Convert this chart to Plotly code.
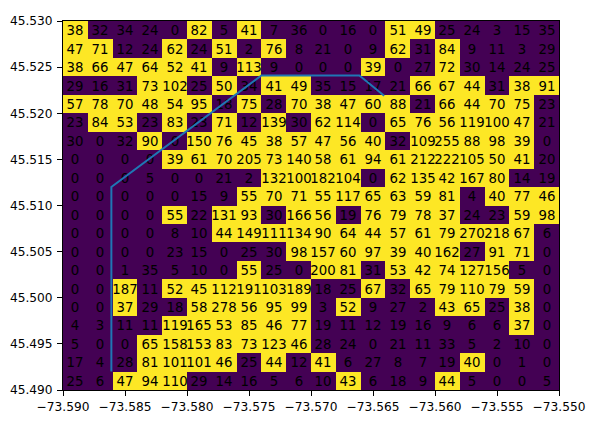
import numpy as np
import plotly.graph_objects as go

# Grid centers (lon / lat), 20 x 20 cells of 0.002 deg
lon_centers = [-73.589 + 0.002 * i for i in range(20)]
lat_centers = [45.529 - 0.002 * j for j in range(20)]  # top row first

r01 = [38, 32, 34, 24, 0, 82, 5, 41, 7, 36, 0, 16, 0, 51, 49, 25, 24, 3, 15, 35]
r02 = [47, 71, 12, 24, 62, 24, 51, 2, 76, 8, 21, 0, 9, 62, 31, 84, 9, 11, 3, 29]
r03 = [38, 66, 47, 64, 52, 41, 9, 113, 9, 0, 0, 0, 39, 0, 27, 72, 30, 14, 24, 25]
r04 = [29, 16, 31, 73, 102, 25, 50, 34, 41, 49, 35, 15, 17, 21, 66, 67, 44, 31, 38, 91]
r05 = [57, 78, 70, 48, 54, 95, 18, 75, 28, 70, 38, 47, 60, 88, 21, 66, 44, 70, 75, 23]
r06 = [23, 84, 53, 23, 83, 23, 71, 12, 139, 30, 62, 114, 0, 65, 76, 56, 119, 100, 47, 21]
r07 = [30, 0, 32, 90, 0, 150, 76, 45, 38, 57, 47, 56, 40, 32, 109, 255, 88, 98, 39, 0]
r08 = [0, 0, 0, 0, 39, 61, 70, 205, 73, 140, 58, 61, 94, 61, 212, 222, 105, 50, 41, 20]
r09 = [0, 0, 0, 5, 0, 0, 21, 2, 132, 100, 182, 104, 0, 62, 135, 42, 167, 80, 14, 19]
r10 = [0, 0, 0, 0, 0, 15, 9, 55, 70, 71, 55, 117, 65, 63, 59, 81, 4, 40, 77, 46]
r11 = [0, 0, 0, 0, 55, 22, 131, 93, 30, 166, 56, 19, 76, 79, 78, 37, 24, 23, 59, 98]
r12 = [0, 0, 0, 0, 8, 10, 44, 149, 111, 134, 90, 64, 44, 57, 61, 79, 270, 218, 67, 6]
r13 = [0, 0, 0, 0, 23, 15, 0, 25, 30, 98, 157, 60, 97, 39, 40, 162, 27, 91, 71, 0]
r14 = [0, 0, 1, 35, 5, 10, 0, 55, 25, 0, 200, 81, 31, 53, 42, 74, 127, 156, 5, 0]
r15 = [0, 0, 187, 11, 52, 45, 112, 191, 103, 189, 18, 25, 67, 32, 65, 79, 110, 79, 59, 0]
r16 = [0, 0, 37, 29, 18, 58, 278, 56, 95, 99, 3, 52, 9, 27, 2, 43, 65, 25, 38, 0]
r17 = [4, 3, 11, 11, 119, 165, 53, 85, 46, 77, 19, 11, 12, 19, 16, 9, 6, 6, 37, 0]
r18 = [5, 0, 0, 65, 158, 153, 83, 73, 123, 46, 28, 24, 0, 21, 11, 33, 5, 2, 10, 0]
r19 = [17, 4, 28, 81, 101, 101, 46, 25, 44, 12, 41, 6, 27, 8, 7, 19, 40, 0, 1, 0]
r20 = [25, 6, 47, 94, 110, 29, 14, 16, 5, 6, 10, 43, 6, 18, 9, 44, 5, 0, 0, 5]

counts = np.array([r01, r02, r03, r04, r05, r06, r07, r08, r09, r10,
                   r11, r12, r13, r14, r15, r16, r17, r18, r19, r20])
threshold = 36
mask = (counts > threshold).astype(int)

# boundary line
line_lon = [-73.5861, -73.5861, -73.5740, -73.5661, -73.5641]
line_lat = [45.4920, 45.5120, 45.5241, 45.5241, 45.5219]

FONT = "DejaVu Sans"

fig = go.Figure()
fig.add_trace(go.Heatmap(
    x=lon_centers, y=lat_centers, z=mask,
    colorscale=[[0, "#440154"], [1, "#fde725"]], zmin=0, zmax=1,
    showscale=False,
    text=counts.astype(str), texttemplate="%{text}",
    textfont=dict(family=FONT, size=13.3, color="black"),
    hoverinfo="skip", xgap=0, ygap=0,
))
fig.add_trace(go.Scatter(
    x=line_lon, y=line_lat, mode="lines",
    line=dict(color="#1f77b4", width=2), hoverinfo="skip", showlegend=False,
))

axis_common = dict(
    showgrid=False, zeroline=False, showline=True, mirror=True,
    linecolor="black", linewidth=1.1, ticks="outside", ticklen=4.9,
    tickwidth=1.1, tickcolor="black", tickformat=".3f", dtick=0.005,
    tickfont=dict(family=FONT, size=12.2, color="black"),
    automargin=False, tickangle=0,
)
fig.update_layout(
    width=595, height=430, autosize=False,
    margin=dict(l=63.3, r=35.7, t=20.5, b=40, pad=0),
    paper_bgcolor="white", plot_bgcolor="white",
    showlegend=False,
    xaxis=dict(range=[-73.59, -73.55], tick0=-73.59, **axis_common),
    yaxis=dict(range=[45.49, 45.53], tick0=45.49, ticklabelstandoff=2, **axis_common),
)
fig.write_html("out.html", config={"displayModeBar": False},
               post_script="document.body.style.margin='0';")
